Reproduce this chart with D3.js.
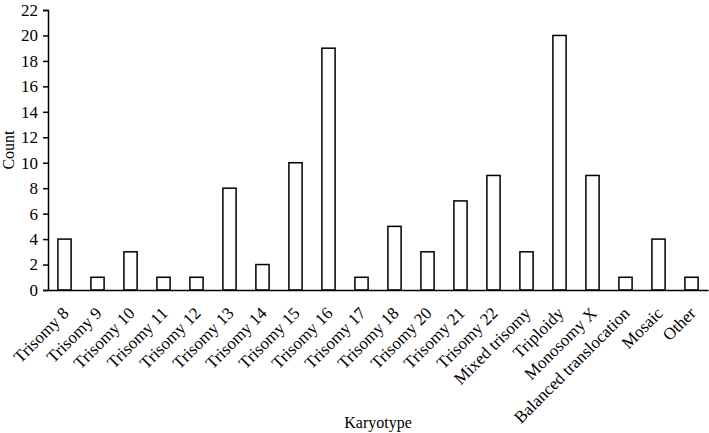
<!DOCTYPE html>
<html>
<head>
<meta charset="utf-8">
<script src="https://cdn.jsdelivr.net/npm/d3@7"></script>
<style>
body { margin: 0; background: #fff; }
svg text { font-family: "Liberation Serif", "DejaVu Serif", serif; fill: #000; }
</style>
</head>
<body>
<svg width="709" height="433"></svg>
<script>
var categories = ['Trisomy 8','Trisomy 9','Trisomy 10','Trisomy 11','Trisomy 12','Trisomy 13','Trisomy 14','Trisomy 15','Trisomy 16','Trisomy 17','Trisomy 18','Trisomy 20','Trisomy 21','Trisomy 22','Mixed trisomy','Triploidy','Monosomy X','Balanced translocation','Mosaic','Other'];
var counts = [4,1,3,1,1,8,2,10,19,1,5,3,7,9,3,20,9,1,4,1];
var yTicks = [0,2,4,6,8,10,12,14,16,18,20,22];

var svg = d3.select('svg');
var margin = {left:48, right:1, top:10, bottom:143};
var width = +svg.attr('width'), height = +svg.attr('height');
var innerwidth = width - margin.left - margin.right;
var innerheight = height - margin.top - margin.bottom;

var data = categories.map((c,i) => ({Karyotype:c, Count:counts[i]}));

var xscale = d3.scaleBand().domain(categories).range([0,innerwidth]).paddingInner(0.6).paddingOuter(0.3);
var yscale = d3.scaleLinear().domain([0,22]).range([innerheight,0]);

var g = svg.append('g').attr('transform',`translate(${margin.left},${margin.top})`);

g.append('g').selectAll('rect').data(data)
	.enter()
	.append('rect')
	.attr('x',d => xscale(d.Karyotype))
	.attr('y',d => yscale(d.Count))
	.attr('width',xscale.bandwidth())
	.attr('height',d => innerheight - yscale(d.Count))
	.attr('fill','#fff')
	.attr('stroke','#000')
	.attr('stroke-width',1.5);

var yaxis = g.append('g').call(d3.axisLeft(yscale).tickValues(yTicks).tickSize(5).tickPadding(5));
yaxis.selectAll('text').style('font-size','17px');
yaxis.selectAll('path,line').attr('stroke','#000').attr('stroke-width',1.5);

var xaxis = g.append('g').attr('transform',`translate(0,${innerheight})`)
	.call(d3.axisBottom(xscale).tickSize(0).tickSizeOuter(0));
xaxis.selectAll('path').attr('stroke','#000').attr('stroke-width',1.5);
xaxis.selectAll('text')
	.style('font-size','17px')
	.attr('text-anchor','end')
	.attr('dy','0.35em')
	.attr('transform','translate(-1,18) rotate(-45)');

svg.append('text')
	.attr('x', margin.left + innerwidth/2)
	.attr('y', 428)
	.attr('text-anchor','middle')
	.style('font-size','16px')
	.text('Karyotype');

svg.append('text')
	.attr('transform',`translate(14,${margin.top + innerheight/2}) rotate(-90)`)
	.attr('text-anchor','middle')
	.style('font-size','16px')
	.text('Count');
</script>
</body>
</html>
